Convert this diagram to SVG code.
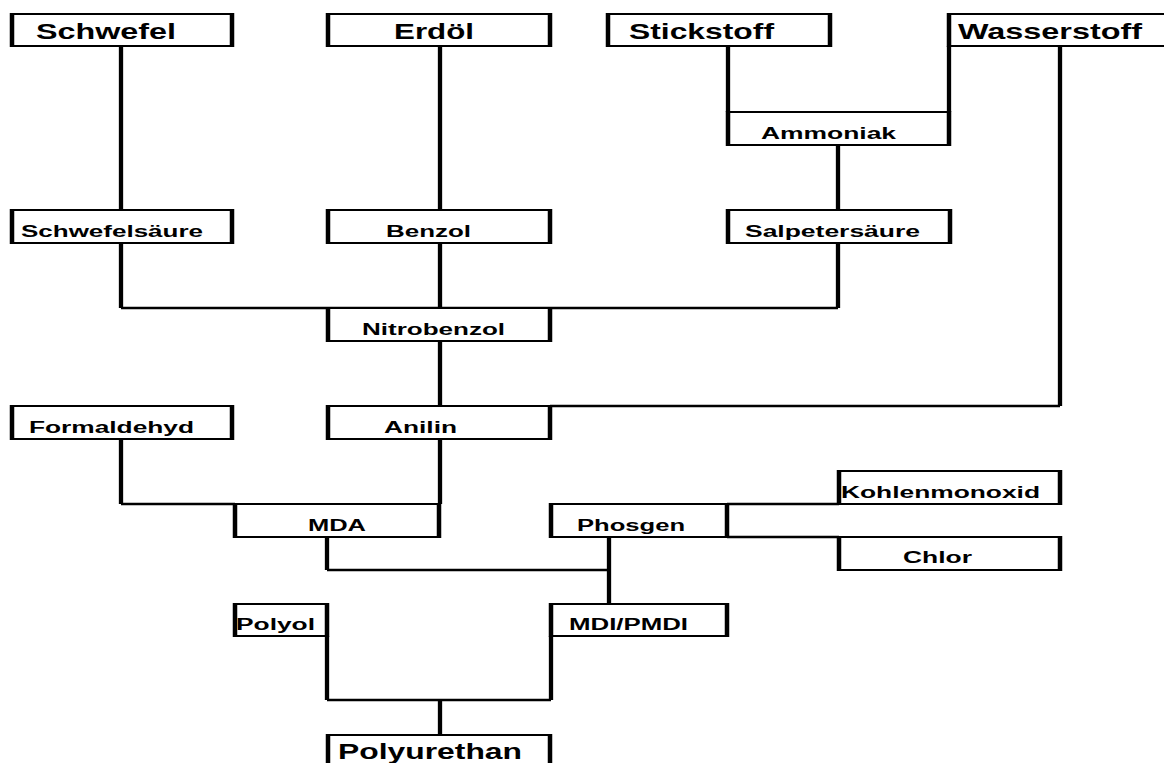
<svg xmlns="http://www.w3.org/2000/svg" width="1164" height="763" viewBox="0 0 1164 763">
<style>
.box{fill:#fff;stroke:#000;stroke-width:2}
.side{fill:none;stroke:#000;stroke-width:4.5}
.v{fill:none;stroke:#000;stroke-width:4.3}
.h{fill:none;stroke:#000;stroke-width:2.5}
.big{font-family:"Liberation Sans",Arial,sans-serif;font-weight:bold;font-size:22px;fill:#000}
.sm{font-family:"Liberation Sans",Arial,sans-serif;font-weight:bold;font-size:16px;fill:#000}
</style>
<rect width="1164" height="763" fill="#fff"/>
<g id="connectors">
<path class="v" d="M121 46V210M440 46V210M728 46V112M949 46V112M838 145V210"/>
<path class="v" d="M121 243V308M440 243V308M838 243V308"/>
<path class="h" d="M121 308H838"/>
<path class="v" d="M440 341V406M1060 46V406"/>
<path class="h" d="M550 406H1060"/>
<path class="v" d="M121 439V504M440 439V504"/>
<path class="h" d="M121 504H235"/>
<path class="v" d="M327 537V570M609 537V604"/>
<path class="h" d="M327 570H609M727 504H839M727 537H839"/>
<path class="v" d="M327 636V700M551 636V700M440 700V735"/>
<path class="h" d="M327 700H551"/>
</g>
<g id="schwefel"><rect class="box" x="12" y="14" width="220" height="32"/><path class="side" d="M12 13V47M232 13V47"/><text class="big" x="36" y="39" textLength="140" lengthAdjust="spacingAndGlyphs">Schwefel</text></g>
<g id="erdoel"><rect class="box" x="328" y="14" width="222" height="32"/><path class="side" d="M328 13V47M550 13V47"/><text class="big" x="394" y="39" textLength="80" lengthAdjust="spacingAndGlyphs">Erdöl</text></g>
<g id="stickstoff"><rect class="box" x="608" y="14" width="222" height="32"/><path class="side" d="M608 13V47M830 13V47"/><text class="big" x="629" y="39" textLength="145" lengthAdjust="spacingAndGlyphs">Stickstoff</text></g>
<g id="wasserstoff"><rect class="box" x="949" y="14" width="225" height="32"/><path class="side" d="M949 13V47"/><text class="big" x="958" y="39" textLength="184" lengthAdjust="spacingAndGlyphs">Wasserstoff</text></g>
<g id="ammoniak"><rect class="box" x="728" y="112" width="221" height="33"/><path class="side" d="M728 111V146M949 111V146"/><text class="sm" x="761" y="139" textLength="135" lengthAdjust="spacingAndGlyphs">Ammoniak</text></g>
<g id="schwefelsaeure"><rect class="box" x="12" y="210" width="220" height="33"/><path class="side" d="M12 209V244M232 209V244"/><text class="sm" x="21" y="237" textLength="182" lengthAdjust="spacingAndGlyphs">Schwefelsäure</text></g>
<g id="benzol"><rect class="box" x="328" y="210" width="222" height="33"/><path class="side" d="M328 209V244M550 209V244"/><text class="sm" x="386" y="237" textLength="85" lengthAdjust="spacingAndGlyphs">Benzol</text></g>
<g id="salpetersaeure"><rect class="box" x="728" y="210" width="222" height="33"/><path class="side" d="M728 209V244M950 209V244"/><text class="sm" x="745" y="237" textLength="175" lengthAdjust="spacingAndGlyphs">Salpetersäure</text></g>
<g id="nitrobenzol"><rect class="box" x="328" y="308" width="222" height="33"/><path class="side" d="M328 307V342M550 307V342"/><text class="sm" x="362" y="335" textLength="143" lengthAdjust="spacingAndGlyphs">Nitrobenzol</text></g>
<g id="formaldehyd"><rect class="box" x="12" y="406" width="220" height="33"/><path class="side" d="M12 405V440M232 405V440"/><text class="sm" x="29" y="433" textLength="165" lengthAdjust="spacingAndGlyphs">Formaldehyd</text></g>
<g id="anilin"><rect class="box" x="328" y="406" width="222" height="33"/><path class="side" d="M328 405V440M550 405V440"/><text class="sm" x="384" y="433" textLength="73" lengthAdjust="spacingAndGlyphs">Anilin</text></g>
<g id="kohlenmonoxid"><rect class="box" x="839" y="471" width="221" height="33"/><path class="side" d="M839 470V505M1060 470V505"/><text class="sm" x="841" y="498" textLength="199" lengthAdjust="spacingAndGlyphs">Kohlenmonoxid</text></g>
<g id="mda"><rect class="box" x="235" y="504" width="204" height="33"/><path class="side" d="M235 503V538M439 503V538"/><text class="sm" x="308" y="531" textLength="58" lengthAdjust="spacingAndGlyphs">MDA</text></g>
<g id="phosgen"><rect class="box" x="551" y="504" width="176" height="33"/><path class="side" d="M551 503V538M727 503V538"/><text class="sm" x="577" y="531" textLength="108" lengthAdjust="spacingAndGlyphs">Phosgen</text></g>
<g id="chlor"><rect class="box" x="839" y="537" width="221" height="33"/><path class="side" d="M839 536V571M1060 536V571"/><text class="sm" x="903" y="563" textLength="69" lengthAdjust="spacingAndGlyphs">Chlor</text></g>
<g id="polyol"><rect class="box" x="235" y="604" width="92" height="32"/><path class="side" d="M235 603V637M327 603V637"/><text class="sm" x="236" y="630" textLength="79" lengthAdjust="spacingAndGlyphs">Polyol</text></g>
<g id="mdi"><rect class="box" x="551" y="604" width="176" height="32"/><path class="side" d="M551 603V637M727 603V637"/><text class="sm" x="569" y="630" textLength="119" lengthAdjust="spacingAndGlyphs">MDI/PMDI</text></g>
<g id="polyurethan"><rect class="box" x="328" y="735" width="222" height="40"/><path class="side" d="M328 734V776M550 734V776"/><text class="big" x="338" y="759" textLength="184" lengthAdjust="spacingAndGlyphs">Polyurethan</text></g>
</svg>
